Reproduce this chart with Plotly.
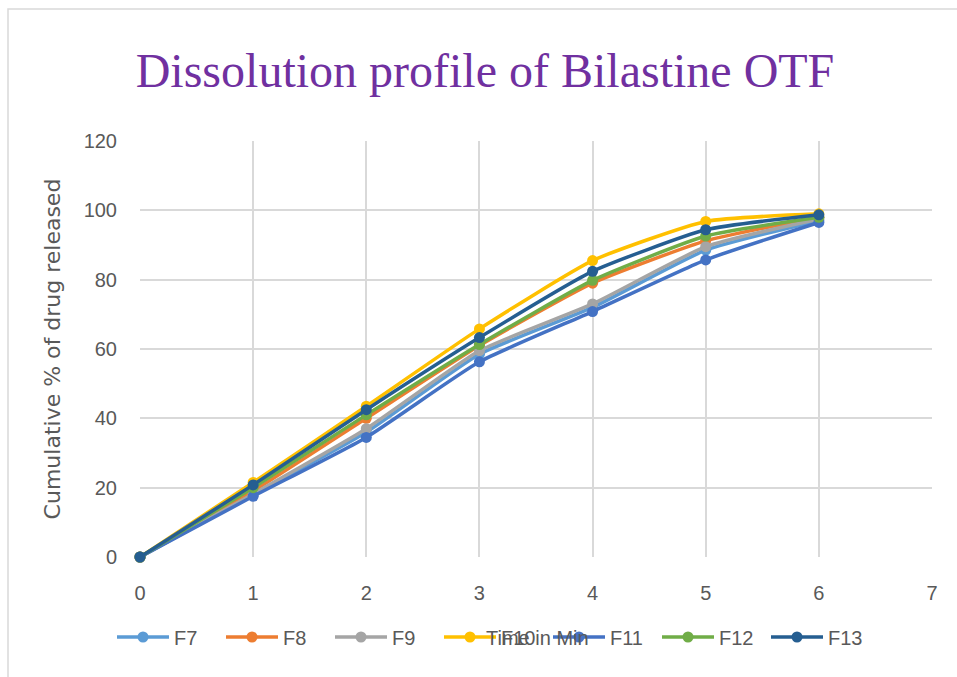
import plotly.graph_objects as go

time_min = [0, 1, 2, 3, 4, 5, 6]
series_names = ["F7", "F8", "F9", "F10", "F11", "F12", "F13"]
F7 = [0, 18.0, 36.0, 58.5, 72.0, 88.5, 97.0]
F8 = [0, 19.0, 40.0, 61.0, 79.0, 91.2, 98.0]
F9 = [0, 18.2, 37.0, 59.5, 73.0, 89.5, 97.5]
F10 = [0, 21.5, 43.5, 65.8, 85.5, 96.8, 99.0]
F11 = [0, 17.5, 34.5, 56.3, 70.8, 85.7, 96.5]
F12 = [0, 20.0, 41.0, 61.3, 79.8, 92.6, 98.0]
F13 = [0, 20.8, 42.5, 63.3, 82.4, 94.4, 98.7]
series_values = [F7, F8, F9, F10, F11, F12, F13]
colors = ["#5B9BD5", "#ED7D31", "#A5A5A5", "#FFC000", "#4472C4", "#70AD47", "#255E91"]

fig = go.Figure()
for name, vals, col in zip(series_names, series_values, colors):
    fig.add_trace(go.Scatter(
        x=time_min, y=vals, name=name, mode="lines+markers",
        line=dict(color=col, width=3.5, shape="spline", smoothing=0.5),
        marker=dict(color=col, size=11, symbol="circle"),
        cliponaxis=False,
    ))

W, H = 957, 677
ml, mr, mt, mb = 140, 25, 141, 120
pw = W - ml - mr
ph = H - mt - mb

fig.update_layout(
    width=W, height=H,
    margin=dict(l=ml, r=mr, t=mt, b=mb, autoexpand=False),
    paper_bgcolor="white", plot_bgcolor="white",
    title=dict(text="Dissolution profile of Bilastine OTF",
               font=dict(family="Liberation Serif", size=48, color="#7030A0"),
               x=485 / W, xanchor="center",
               y=1 - 70 / H, yanchor="middle"),
    font=dict(family="Liberation Sans", color="#595959", size=18),
    xaxis=dict(range=[0, 7], dtick=1, tick0=0, showgrid=True, gridcolor="#D9D9D9",
               gridwidth=1.5, zeroline=False, showline=False, ticks="",
               tickfont=dict(size=20, color="#595959"), ticklabelstandoff=22),
    yaxis=dict(range=[0, 120], dtick=20, tick0=0, showgrid=True, gridcolor="#D9D9D9",
               gridwidth=1.5, zeroline=False, showline=False, ticks="",
               tickfont=dict(size=20, color="#595959"), ticklabelstandoff=22,
               title=dict(text="Cumulative % of drug released",
                          font=dict(family="DejaVu Sans", size=22, color="#595959"),
                          standoff=16)),
    legend=dict(orientation="h", x=(112 - ml) / pw, xanchor="left",
                y=(557 - 637) / ph, yanchor="middle",
                font=dict(size=20, color="#595959"),
                entrywidth=42, entrywidthmode="pixels",
                itemwidth=52, traceorder="normal", bgcolor="rgba(0,0,0,0)"),
    showlegend=True,
)

fig.add_annotation(text="Time in Min", xref="paper", yref="paper",
                   x=(537 - ml) / pw, y=(557 - 638) / ph, showarrow=False,
                   font=dict(size=20, color="#595959"), xanchor="center", yanchor="middle")

fig.add_shape(type="rect", xref="paper", yref="paper",
              x0=(8 - ml) / pw, x1=(970 - ml) / pw,
              y0=(557 - 700) / ph, y1=(557 - 9) / ph,
              line=dict(color="#D9D9D9", width=1.5), layer="below")

fig.write_html("out.html", config={"displayModeBar": False},
               post_script="document.body.style.margin='0';")
